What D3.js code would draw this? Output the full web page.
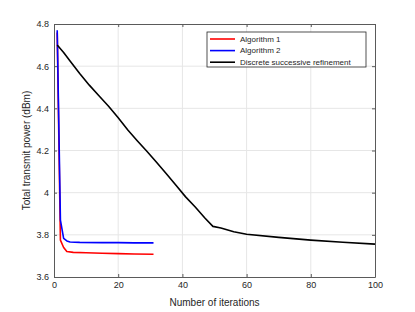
<!DOCTYPE html>
<meta charset="utf-8">
<style>
  body { margin: 0; background: #fff; }
  text { font-family: "Liberation Sans", Arial, sans-serif; fill: #262626; }
  .grid line { stroke: #e6e6e6; stroke-width: 1; }
  .axis path, .axis line { stroke: #5a5a5a; }
  .series { fill: none; stroke-width: 1.6; stroke-linejoin: round; }
</style>
<body>
<script src="https://d3js.org/d3.v7.min.js"></script>
<div id="chart"></div>
<script>
// values
var alg1Iter = [1, 2, 3, 4, 6, 10, 15, 20, 25, 31];
var alg1Power = [4.76, 3.775, 3.74, 3.721, 3.717, 3.715, 3.713, 3.711, 3.709, 3.708];

var alg2Iter = [1, 2, 3, 4, 5, 8, 15, 20, 25, 31];
var alg2Power = [4.77, 3.87, 3.783, 3.771, 3.766, 3.764, 3.763, 3.763, 3.762, 3.762];

var dsrIter = [1, 3, 5, 8, 11, 14, 17, 20, 23, 26, 29, 32, 35, 38, 41, 44, 47, 49.5, 52, 56, 60, 70, 80, 90, 100];
var dsrPower = [4.70, 4.665, 4.625, 4.565, 4.51, 4.46, 4.41, 4.355, 4.297, 4.245, 4.195, 4.143, 4.09, 4.035, 3.98, 3.932, 3.88, 3.84, 3.832, 3.815, 3.803, 3.788, 3.775, 3.765, 3.756];

var seriesNames = ["Algorithm 1", "Algorithm 2", "Discrete successive refinement"];
var seriesColors = ["#ff0000", "#0000ff", "#000000"];

var xTicks = [0, 20, 40, 60, 80, 100];
var yTicks = [3.6, 3.8, 4, 4.2, 4.4, 4.6, 4.8];

var width = 415, height = 312;
var margin = {top: 24, right: 40, bottom: 35, left: 54};
var innerW = width - margin.left - margin.right,
    innerH = height - margin.top - margin.bottom;

var x = d3.scaleLinear().domain([0, 100]).range([0, innerW]);
var y = d3.scaleLinear().domain([3.6, 4.8]).range([innerH, 0]);

var svg = d3.select("#chart").append("svg")
    .attr("width", width)
    .attr("height", height)
  .append("g")
    .attr("transform", "translate(" + margin.left + "," + margin.top + ")");

// grid
var grid = svg.append("g").attr("class", "grid");
grid.selectAll(".gx").data(xTicks.slice(1, -1)).enter().append("line")
    .attr("x1", function(d) { return x(d); }).attr("x2", function(d) { return x(d); })
    .attr("y1", 0).attr("y2", innerH);
grid.selectAll(".gy").data(yTicks.slice(1, -1)).enter().append("line")
    .attr("y1", function(d) { return y(d); }).attr("y2", function(d) { return y(d); })
    .attr("x1", 0).attr("x2", innerW);

var line = d3.line()
    .x(function(d) { return x(d[0]); })
    .y(function(d) { return y(d[1]); });

var series = [
  d3.zip(alg1Iter, alg1Power),
  d3.zip(alg2Iter, alg2Power),
  d3.zip(dsrIter, dsrPower)
];

svg.selectAll(".series").data(series).enter().append("path")
    .attr("class", "series")
    .attr("d", line)
    .style("stroke", function(d, i) { return seriesColors[i]; });

// axes with inward ticks on all sides
var tk = 3;
svg.append("g").attr("class", "axis")
    .attr("transform", "translate(0," + innerH + ")")
    .call(d3.axisBottom(x).tickValues(xTicks).tickSizeInner(-tk).tickSizeOuter(0).tickPadding(5))
    .selectAll("text").style("font-size", "9px").style("fill", "#262626");
svg.append("g").attr("class", "axis")
    .call(d3.axisTop(x).tickValues(xTicks).tickSizeInner(-tk).tickSizeOuter(0).tickFormat(""));
svg.append("g").attr("class", "axis")
    .call(d3.axisLeft(y).tickValues(yTicks).tickSizeInner(-tk).tickSizeOuter(0).tickPadding(5)
      .tickFormat(d3.format("~g")))
    .selectAll("text").style("font-size", "9px").style("fill", "#262626");
svg.append("g").attr("class", "axis")
    .attr("transform", "translate(" + innerW + ",0)")
    .call(d3.axisRight(y).tickValues(yTicks).tickSizeInner(-tk).tickSizeOuter(0).tickFormat(""));

svg.append("text")
    .attr("x", innerW / 2).attr("y", innerH + 29)
    .attr("text-anchor", "middle")
    .style("font-size", "10px")
    .text("Number of iterations");

svg.append("text")
    .attr("transform", "translate(" + (-24) + "," + (innerH / 2) + ") rotate(-90)")
    .attr("text-anchor", "middle")
    .style("font-size", "10px")
    .text("Total transmit power (dBm)");

// legend
var lg = svg.append("g").attr("transform", "translate(" + (207 - margin.left) + "," + (32 - margin.top) + ")");
lg.append("rect")
    .attr("width", 159).attr("height", 35)
    .style("fill", "#fff").style("stroke", "#262626").style("stroke-width", 0.8);
var item = lg.selectAll(".item").data(seriesNames).enter().append("g")
    .attr("transform", function(d, i) { return "translate(0," + (7 + i * 11.6) + ")"; });
item.append("line")
    .attr("x1", 3).attr("x2", 28)
    .style("stroke", function(d, i) { return seriesColors[i]; })
    .style("stroke-width", 1.6);
item.append("text")
    .attr("x", 33).attr("dy", "0.35em")
    .style("font-size", "8px")
    .text(function(d) { return d; });
</script>
</body>
